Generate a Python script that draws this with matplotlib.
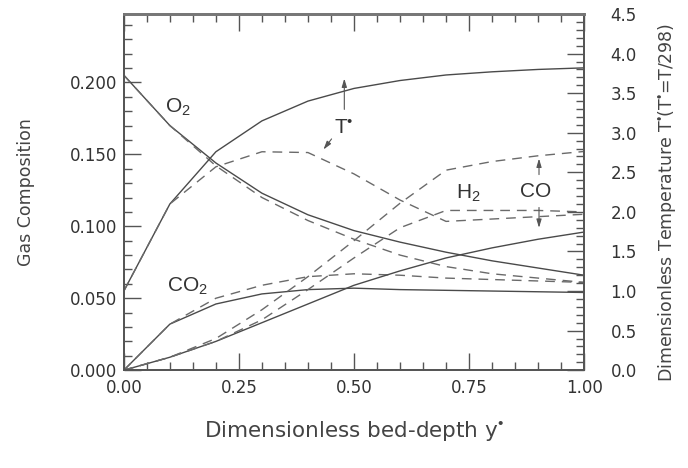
import numpy as np
import matplotlib
matplotlib.use("Agg")
import matplotlib.pyplot as plt
from matplotlib.ticker import MultipleLocator, FormatStrFormatter

plt.rcParams['font.family'] = ['DejaVu Sans']
plt.rcParams['mathtext.fontset'] = 'custom'
plt.rcParams['mathtext.rm'] = 'Liberation Sans'
plt.rcParams['mathtext.it'] = 'Liberation Sans'

# bed depth
y_depth = [0.0, 0.1, 0.2, 0.3, 0.4, 0.5, 0.6, 0.7, 0.8, 0.9, 1.0]

# gas composition (left axis), solid = model A, dashed = model B
o2_solid = [0.205, 0.170, 0.144, 0.123, 0.108, 0.097, 0.089, 0.082, 0.076, 0.071, 0.066]
o2_dash = [0.205, 0.170, 0.142, 0.120, 0.104, 0.091, 0.080, 0.072, 0.067, 0.064, 0.061]
co2_solid = [0.0, 0.032, 0.046, 0.053, 0.056, 0.057, 0.056, 0.0555, 0.055, 0.0545, 0.054]
co2_dash = [0.0, 0.032, 0.050, 0.059, 0.065, 0.067, 0.066, 0.064, 0.063, 0.062, 0.061]
co_solid = [0.0, 0.009, 0.020, 0.033, 0.046, 0.059, 0.069, 0.078, 0.085, 0.091, 0.096]
co_dash = [0.0, 0.009, 0.022, 0.042, 0.065, 0.090, 0.116, 0.139, 0.145, 0.149, 0.152]
h2_dash = [0.0, 0.009, 0.020, 0.035, 0.056, 0.078, 0.099, 0.111, 0.111, 0.111, 0.110]

# dimensionless temperature (right axis)
t_solid = [1.0, 2.10, 2.76, 3.15, 3.40, 3.56, 3.66, 3.73, 3.77, 3.80, 3.82]
t_dash = [1.0, 2.10, 2.57, 2.76, 2.75, 2.48, 2.15, 1.88, 1.91, 1.94, 1.97]

line_c = '#4a4a4a'
dash_c = '#6a6a6a'
frame_c = '#555555'
text_c = '#333333'

fig = plt.figure(figsize=(6.88, 4.68), dpi=100)
ax = fig.add_axes([0.180, 0.209, 0.669, 0.761])
ax2 = ax.twinx()

lw = 1.0
dash = (0, (7, 5))
ax.plot(y_depth, o2_solid, color=line_c, lw=lw)
ax.plot(y_depth, o2_dash, color=dash_c, lw=lw, ls=dash)
ax.plot(y_depth, co2_solid, color=line_c, lw=lw)
ax.plot(y_depth, co2_dash, color=dash_c, lw=lw, ls=dash)
ax.plot(y_depth, co_solid, color=line_c, lw=lw)
ax.plot(y_depth, co_dash, color=dash_c, lw=lw, ls=dash)
ax.plot(y_depth, h2_dash, color=dash_c, lw=lw, ls=dash)
ax2.plot(y_depth, t_solid, color=line_c, lw=lw)
ax2.plot(y_depth, t_dash, color=dash_c, lw=lw, ls=dash)

ax.set_xlim(0, 1.0)
ax.set_ylim(0, 0.2475)
ax2.set_ylim(0, 4.5)

ax.xaxis.set_major_locator(MultipleLocator(0.25))
ax.xaxis.set_minor_locator(MultipleLocator(0.05))
ax.xaxis.set_major_formatter(FormatStrFormatter('%.2f'))
ax.yaxis.set_major_locator(MultipleLocator(0.05))
ax.yaxis.set_minor_locator(MultipleLocator(0.01))
ax.yaxis.set_major_formatter(FormatStrFormatter('%.3f'))
ax2.yaxis.set_major_locator(MultipleLocator(0.5))
ax2.yaxis.set_minor_locator(MultipleLocator(0.1))
ax2.yaxis.set_major_formatter(FormatStrFormatter('%.1f'))

ax.tick_params(axis='x', which='both', direction='in', top=True, bottom=True,
               colors=frame_c, labelcolor=text_c, labelsize=12, pad=6)
ax.tick_params(axis='y', which='both', direction='in', left=True, right=False,
               colors=frame_c, labelcolor=text_c, labelsize=12, pad=5)
ax2.tick_params(axis='y', which='both', direction='in', right=True,
                colors=frame_c, labelcolor=text_c, labelsize=12, pad=19)
for a in (ax, ax2):
    a.tick_params(which='major', length=12, width=1.0)
    a.tick_params(which='minor', length=6, width=1.0)
    for s in a.spines.values():
        s.set_color(frame_c)
        s.set_linewidth(1.3)
for a in (ax, ax2):
    a.spines['top'].set_linewidth(2.0)
    a.spines['top'].set_color('#777777')

ax.set_ylabel('Gas Composition', fontsize=12.5, color='#444444', labelpad=25)
ax.set_xlabel('Dimensionless bed-depth y$^{\u2022}$', fontsize=15.5, color='#444444', labelpad=16)
ax2.set_ylabel('Dimensionless Temperature T$^{\u2022}$(T$^{\u2022}$=T/298)', fontsize=12.5,
               color='#444444')
ax2.yaxis.set_label_coords(1.157, 0.47)

lab_kw = dict(fontsize=15, color='#333333', ha='center', va='center', family='Liberation Sans')
ax.text(0.118, 0.183, 'O$_2$', **lab_kw)
ax.text(0.138, 0.058, 'CO$_2$', **lab_kw)
ax.text(0.748, 0.123, 'H$_2$', **lab_kw)
ax.text(0.895, 0.124, 'CO', **lab_kw)
ax2.text(0.478, 3.05, 'T$^{\u2022}$', **lab_kw)

arr = dict(arrowstyle='-|>,head_length=0.5,head_width=0.15', color='#555555', lw=0.8)
ax2.annotate('', xy=(0.479, 3.72), xytext=(0.479, 3.26), arrowprops=arr)
ax2.annotate('', xy=(0.430, 2.76), xytext=(0.455, 2.95), arrowprops=arr)
ax.annotate('', xy=(0.902, 0.149), xytext=(0.902, 0.134), arrowprops=arr)
ax.annotate('', xy=(0.902, 0.097), xytext=(0.902, 0.115), arrowprops=arr)

fig.savefig('out.png', dpi=100)
